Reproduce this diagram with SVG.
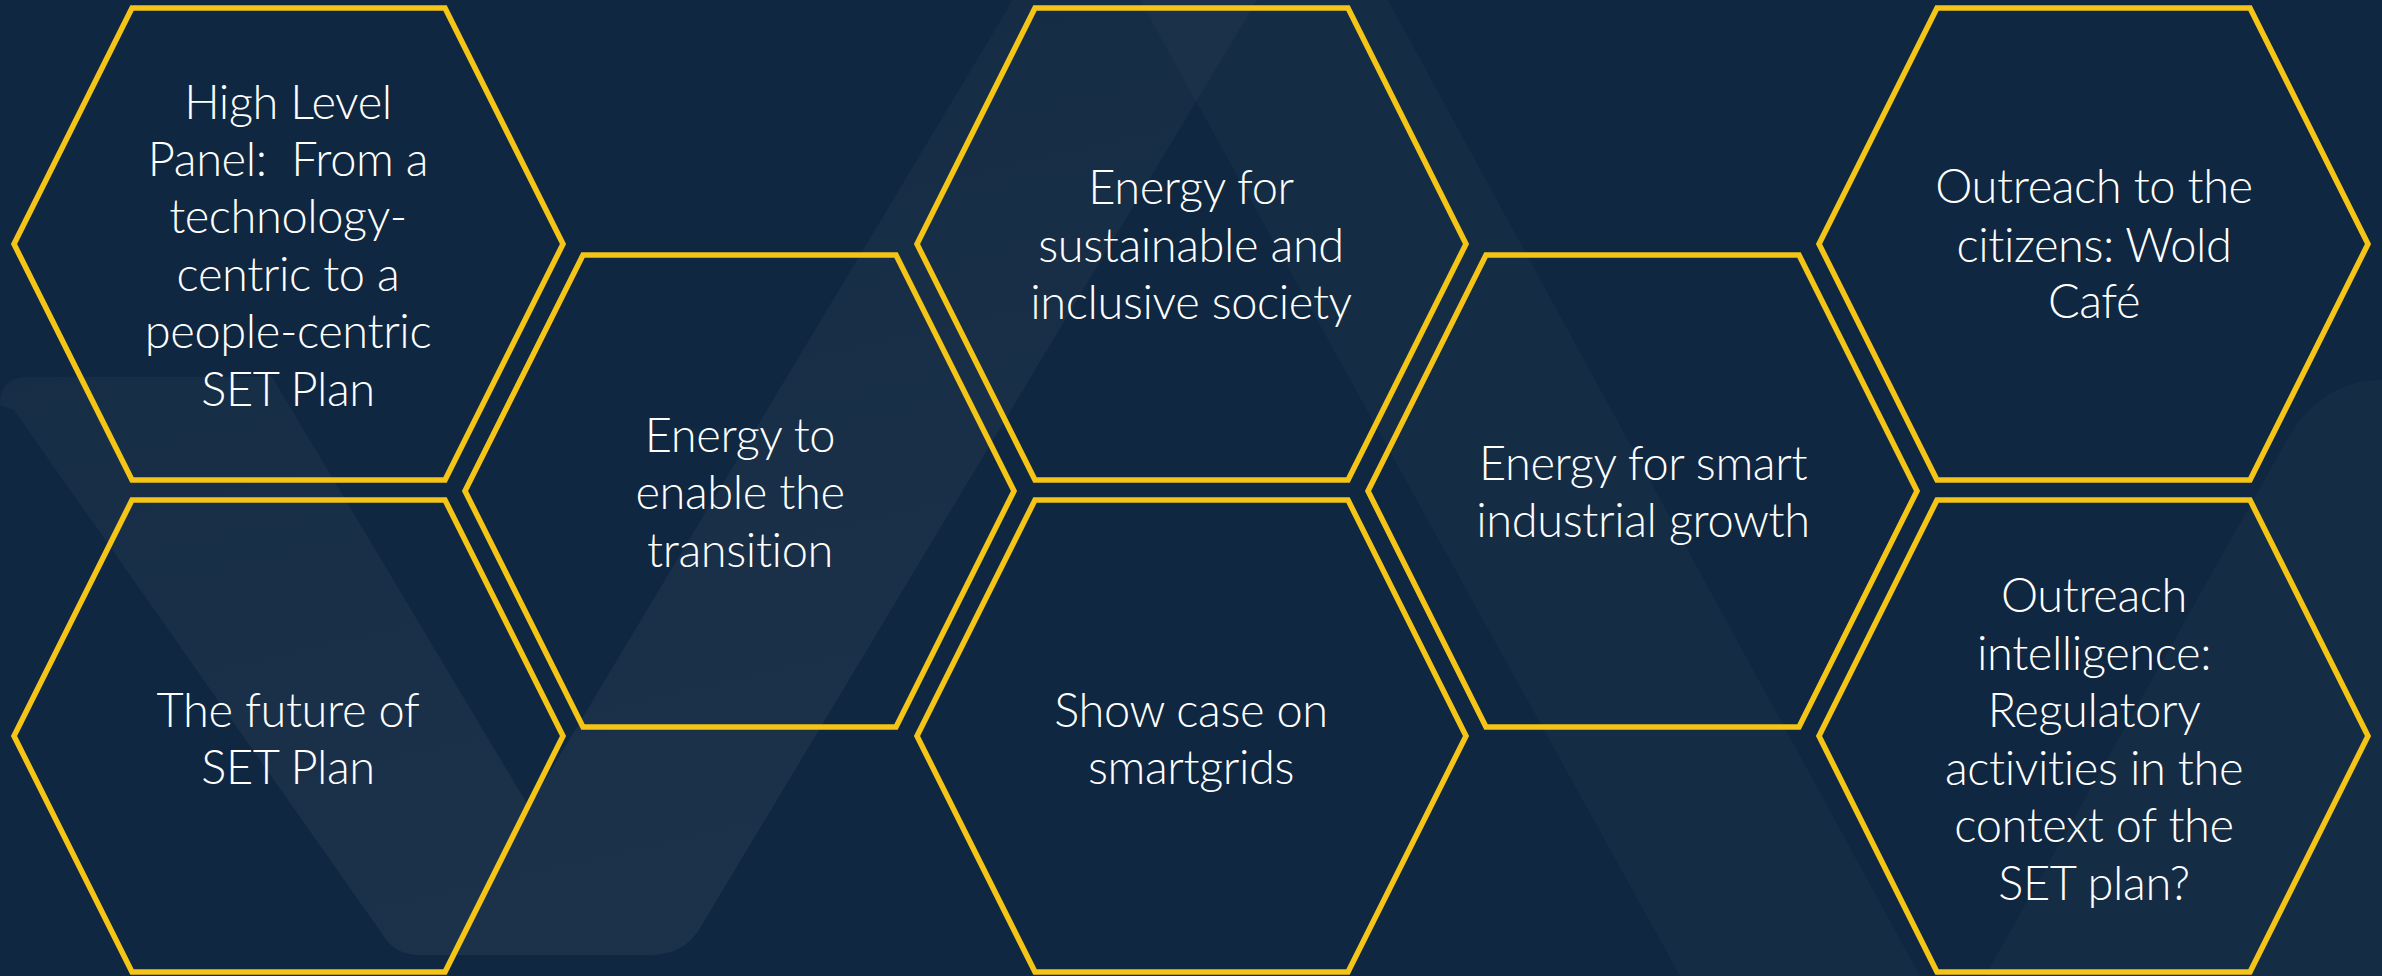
<svg xmlns="http://www.w3.org/2000/svg" width="2382" height="976" viewBox="0 0 2382 976">
<defs>
<style>
.hex{fill:none;stroke:#F4C516;stroke-width:5.5;stroke-linejoin:miter}
.lbl{fill:#FFFFFF;font-family:Lato,"Open Sans","Noto Sans",sans-serif;font-size:47px;font-weight:300;letter-spacing:-0.4px;text-anchor:middle}
.band{fill:#FFFFFF}
</style>
<linearGradient id="gV" x1="0" y1="0" x2="0.3" y2="1">
<stop offset="0" stop-color="#FFFFFF" stop-opacity="0.018"/>
<stop offset="1" stop-color="#FFFFFF" stop-opacity="0.05"/>
</linearGradient>
</defs>
<rect x="0" y="0" width="2382" height="976" fill="#0F2740"/>
<g id="background">
<path d="M 0 405 Q 0 377 28 377 L 272 377 L 529 807 L 1013 0 L 1257 0 L 700 928 Q 684 955 650 955 L 420 955 Q 395 955 383 935 L 14 410 Z" fill="url(#gV)"/>
<polygon class="band" fill-opacity="0.022" points="1140,0 1388,0 1920,976 1680,976"/>
<path class="band" fill-opacity="0.025" d="M 2382 380 Q 2322 380 2288 438 L 1985 976 L 2382 976 Z"/>
</g>
<g id="connectors"></g>
<g id="hex1">
<polygon class="hex" points="14,244 132,8 445,8 563,244 445,480 132,480"/>
<text class="lbl"><tspan x="288" y="119">High Level</tspan><tspan x="288" y="176">Panel:&#160; From a</tspan><tspan x="288" y="233">technology-</tspan><tspan x="288" y="291">centric to a</tspan><tspan x="288" y="348">people-centric</tspan><tspan x="288" y="406">SET Plan</tspan></text>
</g>
<g id="hex2">
<polygon class="hex" points="14,736 132,500 445,500 563,736 445,972 132,972"/>
<text class="lbl"><tspan x="288" y="727">The future of</tspan><tspan x="288" y="784">SET Plan</tspan></text>
</g>
<g id="hex3">
<polygon class="hex" points="465,491 583,255 896,255 1014,491 896,727 583,727"/>
<text class="lbl"><tspan x="740" y="452">Energy to</tspan><tspan x="740" y="509">enable the</tspan><tspan x="740" y="567">transition</tspan></text>
</g>
<g id="hex4">
<polygon class="hex" points="917,244 1035,8 1348,8 1466,244 1348,480 1035,480"/>
<text class="lbl"><tspan x="1191" y="204">Energy for</tspan><tspan x="1191" y="262">sustainable and</tspan><tspan x="1191" y="319">inclusive society</tspan></text>
</g>
<g id="hex5">
<polygon class="hex" points="917,736 1035,500 1348,500 1466,736 1348,972 1035,972"/>
<text class="lbl"><tspan x="1191" y="727">Show case on</tspan><tspan x="1191" y="784">smartgrids</tspan></text>
</g>
<g id="hex6">
<polygon class="hex" points="1368,491 1486,255 1799,255 1917,491 1799,727 1486,727"/>
<text class="lbl"><tspan x="1643" y="480">Energy for smart</tspan><tspan x="1643" y="537">industrial growth</tspan></text>
</g>
<g id="hex7">
<polygon class="hex" points="1819,244 1937,8 2250,8 2368,244 2250,480 1937,480"/>
<text class="lbl"><tspan x="2094" y="203">Outreach to the</tspan><tspan x="2094" y="262">citizens: Wold</tspan><tspan x="2094" y="318">Café</tspan></text>
</g>
<g id="hex8">
<polygon class="hex" points="1819,736 1937,500 2250,500 2368,736 2250,972 1937,972"/>
<text class="lbl"><tspan x="2094" y="612">Outreach</tspan><tspan x="2094" y="670">intelligence:</tspan><tspan x="2094" y="727">Regulatory</tspan><tspan x="2094" y="785">activities in the</tspan><tspan x="2094" y="842">context of the</tspan><tspan x="2094" y="900">SET plan?</tspan></text>
</g>
</svg>
